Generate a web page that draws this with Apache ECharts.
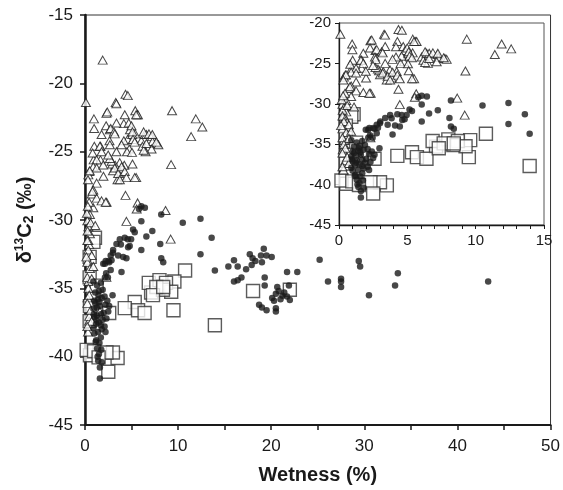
<!DOCTYPE html>
<html>
<head>
<meta charset="utf-8">
<script src="https://cdn.jsdelivr.net/npm/echarts@6/dist/echarts.min.js"></script>
<style>html,body{margin:0;padding:0;background:#fff}#c{width:563px;height:490px}</style>
</head>
<body>
<div id="c"></div>
<script>
// Axis ticks
const mainXTicks = [0, 10, 20, 30, 40, 50];
const mainYTicks = [-45, -40, -35, -30, -25, -20, -15];
const insetXTicks = [0, 5, 10, 15];
const insetYTicks = [-45, -40, -35, -30, -25, -20];

// Series A: open triangles [wetness %, d13C2 permil]
const triangles = [
 [1.9,-18.3],[0.1,-21.4],[4.35,-20.8],[4.6,-20.9],[3.3,-21.4],[5.4,-22.0],[5.6,-22.3],[9.35,-22.0],[11.9,-22.6],[12.6,-23.2],[11.4,-23.9],[9.25,-25.95],
 [4.35,-28.2],[5.65,-28.75],[5.55,-29.2],[8.65,-29.3],[4.45,-30.1],[9.2,-31.4],[5.5,-26.9],
 [0.96,-22.6],[0.98,-23.3],[1.0,-24.6],[0.93,-25.6],[2.3,-22.2],[2.39,-22.1],[2.27,-23.1],[1.78,-23.75],[2.67,-23.4],[1.66,-24.6],[1.66,-25.6],[1.98,-26.8],
 [2.76,-23.3],[2.63,-24.2],[3.12,-23.55],[3.37,-21.5],[4.27,-22.3],[4.17,-22.95],[4.7,-22.9],[4.83,-23.4],[4.76,-24.8],[4.58,-24.1],[4.51,-25.0],[4.17,-24.2],
 [4.22,-26.0],[3.73,-25.8],[3.85,-26.8],[3.49,-27.05],[3.24,-26.0],[3.0,-26.4],[2.93,-25.9],[5.68,-22.3],[5.49,-22.3],[5.39,-23.7],[5.19,-24.1],[5.07,-23.75],
 [6.05,-24.2],[6.17,-24.6],[6.41,-23.75],[6.6,-23.75],[7.2,-23.9],[7.26,-24.25],[7.75,-24.4],[7.88,-24.5],[7.15,-24.8],[6.51,-25.0],[6.3,-23.55],[6.3,-24.9],
 [3.38,-22.9],[3.2,-23.7],[4.99,-23.1],[5.1,-23.55],[5.16,-24.1],[5.34,-24.3],[6.87,-23.7],[7.23,-23.75],[7.66,-24.3],[6.59,-24.4],[5.05,-25.05],[3.92,-24.5],
 [3.38,-25.0],[2.67,-24.5],[1.6,-24.6],[0.82,-25.1],[1.78,-25.0],[1.25,-25.6],[0.89,-26.1],[0.46,-26.45],[0.36,-26.7],[1.25,-26.2],[1.96,-25.97],[2.85,-25.7],
 [3.2,-26.2],[3.56,-26.6],[3.92,-26.1],[4.27,-26.45],[4.45,-26.9],[5.1,-25.9],[5.34,-26.9],[3.74,-27.05],[2.67,-25.5],[2.49,-25.25],[1.25,-27.3],[0.89,-27.8],
 [0.72,-28.1],[1.25,-28.4],[1.78,-28.6],[2.32,-28.7],[0.89,-29.1],[0.53,-29.6],[0.25,-30.06],[0.36,-30.5],[0.53,-31.0],[0.36,-31.5],
 [0.51,-26.4],[0.32,-27.05],[0.8,-27.9],[0.44,-28.7],[0.2,-29.5],[0.27,-30.8],[0.44,-31.8],[0.32,-33.0],[0.37,-34.5],[0.27,-35.7],[0.44,-37.4],[0.32,-38.2],
 [2.22,-28.7],[0.25,-31.5],[0.36,-32.2],[0.72,-32.6],[0.25,-33.1],[0.53,-33.55],[0.89,-33.4],[0.25,-34.2],[0.72,-34.3],[0.36,-35.0],[0.46,-35.5],[0.25,-36.1],
 [0.46,-37.05],[0.72,-37.4],[0.25,-37.8],[1.6,-36.7],[2.3,-34.2],[0.6,-30.2],[0.3,-29.0],[0.6,-36.6],[1.1,-30.4],[0.15,-32.7]
];

// Series B: filled circles
const circles = [
 [1.6,-41.6],[1.6,-40.8],[1.42,-40.3],[1.5,-39.8],[1.3,-39.4],[1.55,-39.0],[1.7,-38.6],[1.2,-38.8],[1.0,-38.3],[1.4,-38.2],[1.8,-38.0],[2.1,-37.8],
 [0.9,-37.9],[1.2,-37.6],[1.5,-37.5],[1.9,-37.3],[2.3,-37.2],[1.0,-37.1],[1.3,-37.0],[1.7,-36.9],[2.0,-36.8],[2.5,-36.7],[0.9,-36.5],[1.25,-36.4],
 [1.6,-36.3],[2.2,-36.2],[2.6,-36.3],[1.0,-35.9],[1.4,-35.8],[1.8,-35.7],[2.1,-35.6],[1.1,-35.3],[1.5,-35.2],[1.9,-35.1],[2.96,-35.5],[1.3,-34.8],
 [1.7,-34.6],[2.14,-34.2],[0.9,-34.5],[1.15,-38.9],[1.75,-39.5],[1.35,-40.0],[1.8,-40.4],[1.25,-37.3],[1.55,-36.0],[2.4,-35.9],[0.95,-36.9],[1.45,-35.5],
 [1.7,-37.7],[2.2,-38.2],[1.1,-36.1],
 [1.96,-33.2],[2.14,-33.2],[2.6,-33.1],[2.85,-32.95],[2.22,-33.0],[2.51,-33.0],[2.27,-33.9],[2.46,-34.2],[2.76,-33.65],[3.92,-33.8],[3.02,-32.2],[3.0,-32.4],
 [2.76,-32.6],[3.56,-32.6],[4.1,-32.7],[4.45,-32.8],[3.38,-31.75],[3.74,-31.4],[4.27,-31.3],[4.8,-31.9],[4.63,-32.0],[3.85,-31.8],[4.59,-31.4],[4.95,-31.4],
 [5.16,-30.7],[5.34,-30.9],[6.05,-30.1],[6.05,-32.2],[6.59,-31.2],[7.23,-30.8],[8.19,-32.8],[8.08,-31.75],[10.5,-30.2],[5.8,-29.2],[6.05,-29.0],[6.43,-29.1],
 [8.19,-29.6],[8.4,-33.1],[12.4,-29.9],[12.4,-32.5],[13.6,-31.3],[13.95,-33.7],
 [16.0,-32.95],[15.4,-33.4],[16.4,-33.4],[16.8,-34.2],[16.4,-34.4],[16.0,-34.5],[17.3,-33.6],[17.7,-32.5],[18.0,-32.8],[18.3,-33.0],[17.9,-33.3],[18.9,-32.6],
 [19.2,-32.1],[19.5,-32.6],[20.05,-32.7],[19.0,-33.1],[19.3,-34.2],[19.3,-34.8],[20.65,-34.9],[20.5,-35.4],[20.1,-35.7],[21.2,-35.55],[21.7,-35.6],[22.0,-35.85],
 [21.9,-34.8],[18.7,-36.2],[19.0,-36.4],[19.5,-36.6],[20.5,-36.45],[20.5,-36.7],[21.7,-33.8],[22.8,-33.8],[25.2,-32.9],[26.1,-34.5],[27.5,-34.3],[27.5,-34.5],
 [27.5,-34.9],[29.4,-33.0],[29.55,-33.4],[30.5,-35.5],[33.6,-33.9],[33.3,-34.8],[43.3,-34.5],[20.8,-35.2],[21.0,-35.8],[20.3,-35.9],[21.4,-35.3]
];

// Series C: open squares
const squares = [
 [10.75,-33.7],[9.6,-34.5],[9.5,-36.6],[7.1,-35.3],[6.85,-34.6],[8.0,-34.4],[8.7,-34.6],[9.26,-35.25],[8.37,-35.1],[7.66,-34.9],[5.34,-36.0],[4.27,-36.45],
 [5.7,-36.6],[6.4,-36.8],[2.6,-36.8],[3.5,-40.1],[3.0,-39.7],[2.3,-39.7],[2.5,-41.1],[0.53,-39.9],[0.18,-39.5],[1.07,-31.3],[0.9,-31.6],[0.5,-32.7],
 [0.5,-34.2],[1.25,-34.8],[0.53,-36.3],[0.5,-37.4],[13.95,-37.7],[18.05,-35.2],[22.0,-35.1],[0.97,-39.6],[1.46,-40.05],[7.3,-35.5],[8.4,-34.9]
];

const FONT = "'Liberation Sans', Arial, sans-serif";
const INK = '#1a1a1a';

function seriesSet(xi, yi) {
  return [
    { type: 'scatter', xAxisIndex: xi, yAxisIndex: yi, data: squares, symbol: 'rect', symbolSize: 13, clip: true,
      itemStyle: { color: '#fff', borderColor: '#333', borderWidth: 1.4 }, z: 2, silent: true },
    { type: 'scatter', xAxisIndex: xi, yAxisIndex: yi, data: triangles, symbol: 'triangle', symbolSize: [9, 8], clip: true,
      itemStyle: { color: '#fff', borderColor: INK, borderWidth: 1 }, z: 3, silent: true },
    { type: 'scatter', xAxisIndex: xi, yAxisIndex: yi, data: circles, symbol: 'circle', symbolSize: 6.5, clip: true,
      itemStyle: { color: INK }, z: 4, silent: true }
  ];
}

const chart = echarts.init(document.getElementById('c'), null, { renderer: 'canvas' });
chart.setOption({
  animation: false,
  backgroundColor: '#fff',
  grid: [
    { left: 85, right: 10, top: 15, bottom: 60, show: true, borderColor: '#333', borderWidth: 1 },
    { left: 339, right: 19, top: 23, bottom: 265, show: true, borderColor: '#555', borderWidth: 1 }
  ],
  xAxis: [
    { gridIndex: 0, type: 'value', min: mainXTicks[0], max: mainXTicks[mainXTicks.length - 1], interval: 10,
      name: 'Wetness (%)', nameLocation: 'middle', nameGap: 40,
      nameTextStyle: { fontFamily: FONT, fontSize: 20, fontWeight: 'bold', color: INK },
      axisLine: { onZero: false, lineStyle: { color: INK, width: 2 } },
      axisTick: { length: 5, lineStyle: { color: INK, width: 1.5 } },
      minorTick: { show: true, splitNumber: 2, length: 5, lineStyle: { color: INK, width: 1.5 } },
      splitLine: { show: false },
      axisLabel: { fontFamily: FONT, fontSize: 17, color: INK, margin: 13 } },
    { gridIndex: 1, type: 'value', min: insetXTicks[0], max: insetXTicks[insetXTicks.length - 1], interval: 5,
      axisLine: { onZero: false, lineStyle: { color: INK, width: 1.3 } },
      axisTick: { length: 4, lineStyle: { color: INK, width: 1 } },
      minorTick: { show: true, splitNumber: 5, length: 4, lineStyle: { color: INK, width: 1 } },
      splitLine: { show: false },
      axisLabel: { fontFamily: FONT, fontSize: 15, color: INK, margin: 8 } }
  ],
  yAxis: [
    { gridIndex: 0, type: 'value', min: mainYTicks[0], max: mainYTicks[mainYTicks.length - 1], interval: 5,
      name: '{d|δ}{sup|13}{c|C}{sub|2}{c| (‰)}', nameLocation: 'middle', nameGap: 48,
      nameTextStyle: { fontFamily: FONT, fontSize: 20, fontWeight: 'bold', color: INK,
        rich: {
          d: { fontFamily: FONT, fontSize: 20, fontWeight: 'bold', color: INK },
          c: { fontFamily: FONT, fontSize: 20, fontWeight: 'bold', color: INK },
          sup: { fontFamily: FONT, fontSize: 12, fontWeight: 'bold', color: INK, padding: [0, 0, 11, 0] },
          sub: { fontFamily: FONT, fontSize: 14, fontWeight: 'bold', color: INK, padding: [7, 0, 0, 0] }
        } },
      axisLine: { onZero: false, lineStyle: { color: INK, width: 2.5 } },
      axisTick: { length: 5, lineStyle: { color: INK, width: 1.5 } },
      splitLine: { show: false },
      axisLabel: { fontFamily: FONT, fontSize: 17, color: INK, margin: 12 } },
    { gridIndex: 1, type: 'value', min: insetYTicks[0], max: insetYTicks[insetYTicks.length - 1], interval: 5,
      axisLine: { onZero: false, lineStyle: { color: INK, width: 1.3 } },
      axisTick: { length: 4, lineStyle: { color: INK, width: 1 } },
      splitLine: { show: false },
      axisLabel: { fontFamily: FONT, fontSize: 15, color: INK, margin: 8 } }
  ],
  series: seriesSet(0, 0).concat(seriesSet(1, 1))
});
</script>
</body>
</html>
